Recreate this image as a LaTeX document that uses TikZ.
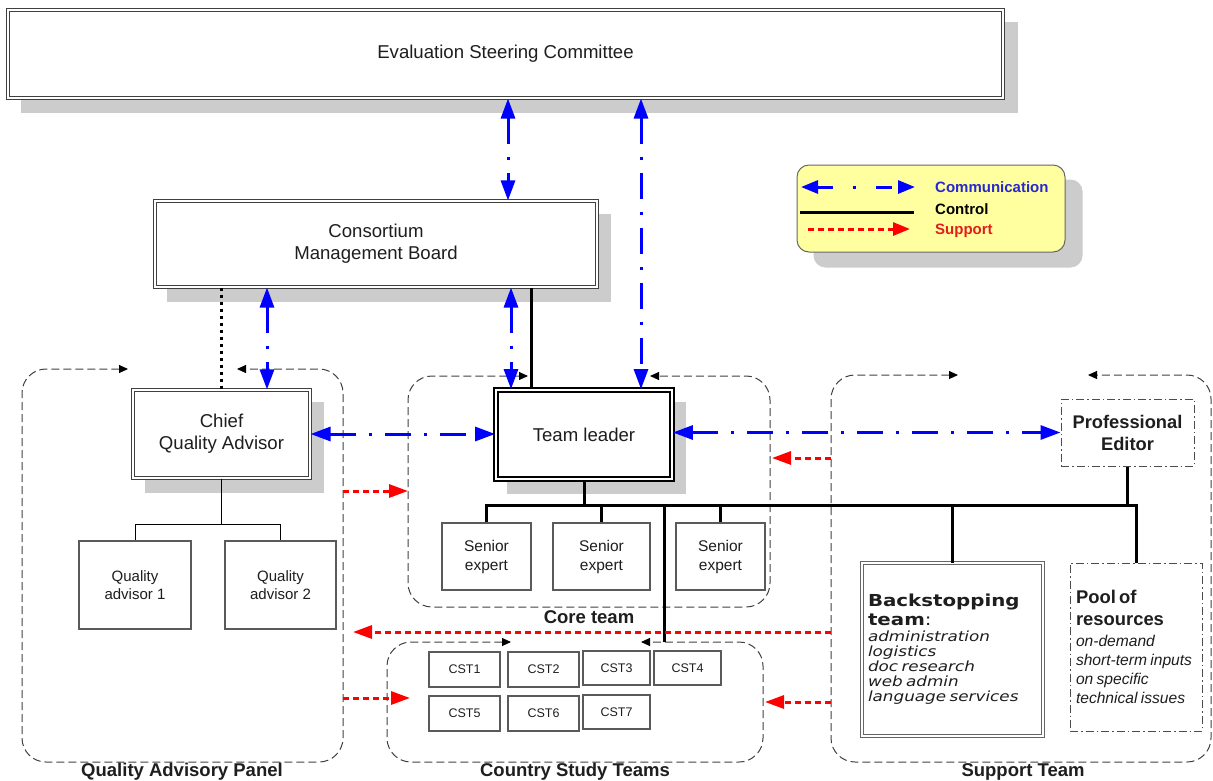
\documentclass[tikz,border=0pt]{standalone}
\usepackage{fontspec}
\setmainfont{Liberation Sans}
\newfontfamily\verd[FakeStretch=1.2]{DejaVu Sans}
\usetikzlibrary{arrows.meta,backgrounds}
\definecolor{shadowc}{RGB}{204,204,204}
\definecolor{commblue}{RGB}{0,0,255}
\definecolor{commtxt}{RGB}{40,40,210}
\definecolor{suppred}{RGB}{255,0,0}
\definecolor{supptxt}{RGB}{225,30,30}
\definecolor{legyellow}{RGB}{255,255,160}
\definecolor{txt}{RGB}{30,30,30}
\definecolor{boxgray}{RGB}{90,90,90}
\begin{document}
\begin{tikzpicture}[x=1pt,y=-1pt,
  bigfont/.style={font=\fontsize{18.6}{22}\selectfont},
  dblbox/.style={draw=black!75, double=white, double distance=1.4pt, line width=1.1pt, fill=white, inner sep=0pt, align=center, text=txt, bigfont},
  tlbox/.style={draw=black, double=white, double distance=1.8pt, line width=1.8pt, fill=white, inner sep=0pt, align=center, text=txt, bigfont},
  plainbox/.style={draw=boxgray, line width=1.2pt, fill=white, inner sep=0pt, align=center, text=txt},
  dashdotbox/.style={draw=black!70, line width=1pt, dash pattern=on 8pt off 3pt on 1.5pt off 3pt, fill=white, inner sep=0pt, text=txt},
  groupbox/.style={draw=black!75, line width=1pt, dash pattern=on 8pt off 4pt, rounded corners=24pt, {Triangle[length=9pt,width=8pt,color=black]}-{Triangle[length=9pt,width=8pt,color=black]}},
  grouplabel/.style={font=\fontsize{18.5}{22}\selectfont\bfseries, text=txt, inner sep=0pt, anchor=base},
  comm/.style={draw=commblue, line width=3pt, dash pattern=on 26pt off 13pt on 3pt off 13pt, {Triangle[length=20pt,width=14pt]}-{Triangle[length=20pt,width=14pt]}},
  supp/.style={draw=suppred, line width=3pt, dash pattern=on 6pt off 4pt, -{Triangle[length=19pt,width=13pt]}},
  ctrl/.style={draw=black, line width=3pt},
  ctrldot/.style={draw=black, line width=3pt, dash pattern=on 3pt off 4pt},
  thintree/.style={draw=black, line width=1pt},
  legtext/.style={font=\fontsize{15}{18}\selectfont\bfseries, anchor=west, inner sep=0pt}
]
\useasboundingbox (0,0) rectangle (1213,780);

% group boxes
\draw[groupbox] (128,369) -| (22,762) -| (343,369) -- (237,369);
\draw[groupbox] (528,376) -| (408,607) -| (770,376) -- (650,376);
\draw[groupbox] (511,642) -| (387,762) -| (763,642) -- (641,642);
\draw[groupbox] (958,375) -| (831,762) -| (1211,375) -- (1088,375);
\node[grouplabel] (lqap) at (182,776) {Quality Advisory Panel};
\node[grouplabel] (lcore) at (589,623) {Core team};
\node[grouplabel] (lcst) at (575,776) {Country Study Teams};
\node[grouplabel] (lsupp) at (1023,776) {Support Team};

% main boxes
\node[dblbox, minimum width=995pt, minimum height=88pt] (esc) at (505.5,54) {Evaluation Steering Committee};
\node[dblbox, minimum width=442pt, minimum height=86pt] (cmb) at (376,244) {Consortium\\Management Board};
\node[dblbox, minimum width=177pt, minimum height=88pt] (cqa) at (221.5,434) {Chief\\Quality Advisor};
\node[tlbox, minimum width=176pt, minimum height=89pt] (tl) at (584,434.5) {Team leader};

\node[plainbox, minimum width=112pt, minimum height=88pt, font=\fontsize{15}{18}\selectfont] (qa1) at (135,585) {Quality\\advisor 1};
\node[plainbox, minimum width=111pt, minimum height=88pt, font=\fontsize{15}{18}\selectfont] (qa2) at (280.5,585) {Quality\\advisor 2};

\node[plainbox, minimum width=89pt, minimum height=67pt, font=\fontsize{15.5}{19}\selectfont] (se1) at (486.5,556.5) {Senior\\expert};
\node[plainbox, minimum width=97pt, minimum height=67pt, font=\fontsize{15.5}{19}\selectfont] (se2) at (601.5,556.5) {Senior\\expert};
\node[plainbox, minimum width=89pt, minimum height=67pt, font=\fontsize{15.5}{19}\selectfont] (se3) at (720.5,556.5) {Senior\\expert};

\tikzset{cstbox/.style={plainbox, font=\fontsize{12.5}{15}\selectfont}}
\node[cstbox, minimum width=71pt, minimum height=35pt] (cst1) at (464.5,669.5) {CST1};
\node[cstbox, minimum width=71pt, minimum height=35pt] (cst2) at (543.5,669.5) {CST2};
\node[cstbox, minimum width=67pt, minimum height=34pt] (cst3) at (616.5,668) {CST3};
\node[cstbox, minimum width=67pt, minimum height=34pt] (cst4) at (687.5,668) {CST4};
\node[cstbox, minimum width=71pt, minimum height=35pt] (cst5) at (464.5,713.5) {CST5};
\node[cstbox, minimum width=71pt, minimum height=35pt] (cst6) at (543.5,713.5) {CST6};
\node[cstbox, minimum width=67pt, minimum height=34pt] (cst7) at (616.5,712) {CST7};

\node[dashdotbox, minimum width=133pt, minimum height=67pt, align=center, font=\fontsize{18.3}{22}\selectfont\bfseries] (pe) at (1127.5,432.5) {Professional\\Editor};

\node[draw=black!60, double=white, double distance=1.5pt, line width=1pt, fill=white, minimum width=181pt, minimum height=173pt, text width=169pt, inner xsep=6pt, inner ysep=0pt, align=left, text=txt] (bst) at (952.5,649.5)
{{\verd\fontsize{16.5}{19}\selectfont\textbf{Backstopping}\par\textbf{team}:\par}\vskip1pt
 {\verd\fontsize{14}{15}\selectfont\itshape administration\par logistics\par doc research\par web admin\par language services\par}};

\node[dashdotbox, minimum width=132pt, minimum height=168pt, text width=120pt, inner xsep=6pt, inner ysep=0pt, align=left] (pool) at (1136,647)
{{\fontsize{18.4}{22}\selectfont\bfseries Pool of\par resources\par}\vskip2pt
 {\fontsize{15.6}{19}\selectfont\itshape on-demand\par short-term inputs\par on specific\par technical issues\par}};

% legend
\node[draw=black!60, line width=1pt, rounded corners=12pt, fill=legyellow, minimum width=268pt, minimum height=87pt, inner sep=0pt] (legend) at (931,208.5) {};
\node[legtext, text=commtxt] (lt1) at (935,187) {Communication};
\node[legtext, text=black] (lt2) at (935,209) {Control};
\node[legtext, text=supptxt] (lt3) at (935,231) {Support};
\coordinate (lc1a) at (801,187); \coordinate (lc1b) at (915,187);
\coordinate (lc2a) at (800,212); \coordinate (lc2b) at (914,212);
\coordinate (lc3a) at (808,229); \coordinate (lc3b) at (910,229);
\draw[comm, dash pattern=on 16pt off 20pt on 3pt off 20pt, {Triangle[length=17pt,width=13pt]}-{Triangle[length=17pt,width=13pt]}] (lc1a) -- (lc1b);
\draw[ctrl] (lc2a) -- (lc2b);
\draw[supp, -{Triangle[length=17pt,width=13pt]}] (lc3a) -- (lc3b);

% shadows
\begin{scope}[on background layer]
\fill[shadowc] ([shift={(14pt,-13pt)}]esc.north west) rectangle ([shift={(14pt,-14pt)}]esc.south east);
\fill[shadowc] ([shift={(13pt,-14pt)}]cmb.north west) rectangle ([shift={(13pt,-14pt)}]cmb.south east);
\fill[shadowc] ([shift={(13pt,-13pt)}]cqa.north west) rectangle ([shift={(13pt,-14pt)}]cqa.south east);
\fill[shadowc] ([shift={(12pt,-13pt)}]tl.north west) rectangle ([shift={(13pt,-14pt)}]tl.south east);
\fill[shadowc, rounded corners=12pt] ([shift={(17pt,-15pt)}]legend.north west) rectangle ([shift={(17pt,-15pt)}]legend.south east);
\end{scope}

% control connectors
\coordinate (xa) at (508,0); \coordinate (xb) at (641,0); \coordinate (xc) at (267,0);
\coordinate (xd) at (511,0); \coordinate (xe) at (531,0);
\coordinate (bus) at (0,505);
\coordinate (cstTop) at (664,642);
\draw[ctrldot] (cmb.south -| cqa.north) -- (cqa.north);
\draw[ctrl] (cmb.south -| xe) -- (tl.north -| xe);
\coordinate (qbus) at (221.5,524);
\draw[thintree] (cqa.south) -- (qbus);
\draw[thintree] (qa1.north) |- (qbus) -| (qa2.north);
\draw[ctrl] (tl.south) -- (tl.south |- bus);
\draw[ctrl, line join=miter] (se1.north) |- (bus -| pool.north) -- (pool.north);
\draw[ctrl] (se2.north) -- (se2.north |- bus);
\draw[ctrl] (se3.north) -- (se3.north |- bus);
\draw[ctrl] (bst.north) -- (bst.north |- bus);
\draw[ctrl] (pe.south) -- (pe.south |- bus);
\draw[ctrl] (cstTop |- bus) -- (cstTop);

% communication
\draw[comm] (esc.south -| xa) -- (cmb.north -| xa);
\draw[comm] (esc.south -| xb) -- (tl.north -| xb);
\draw[comm] (cmb.south -| xc) -- (cqa.north -| xc);
\draw[comm] (cmb.south -| xd) -- (tl.north -| xd);
\draw[comm] (cqa.east) -- (tl.west |- cqa.east);
\draw[comm] (tl.east |- pe.west) -- (pe.west);

% support
\coordinate (s1a) at (343,491); \coordinate (s1b) at (408,491);
\coordinate (s2a) at (343,698); \coordinate (s2b) at (410,698);
\coordinate (s3a) at (831,632); \coordinate (s3b) at (353,632);
\coordinate (s4a) at (831,458); \coordinate (s4b) at (772,458);
\coordinate (s5a) at (831,702); \coordinate (s5b) at (765,702);
\draw[supp] (s1a) -- (s1b);
\draw[supp] (s2a) -- (s2b);
\draw[supp] (s3a) -- (s3b);
\draw[supp] (s4a) -- (s4b);
\draw[supp] (s5a) -- (s5b);
\end{tikzpicture}
\end{document}
